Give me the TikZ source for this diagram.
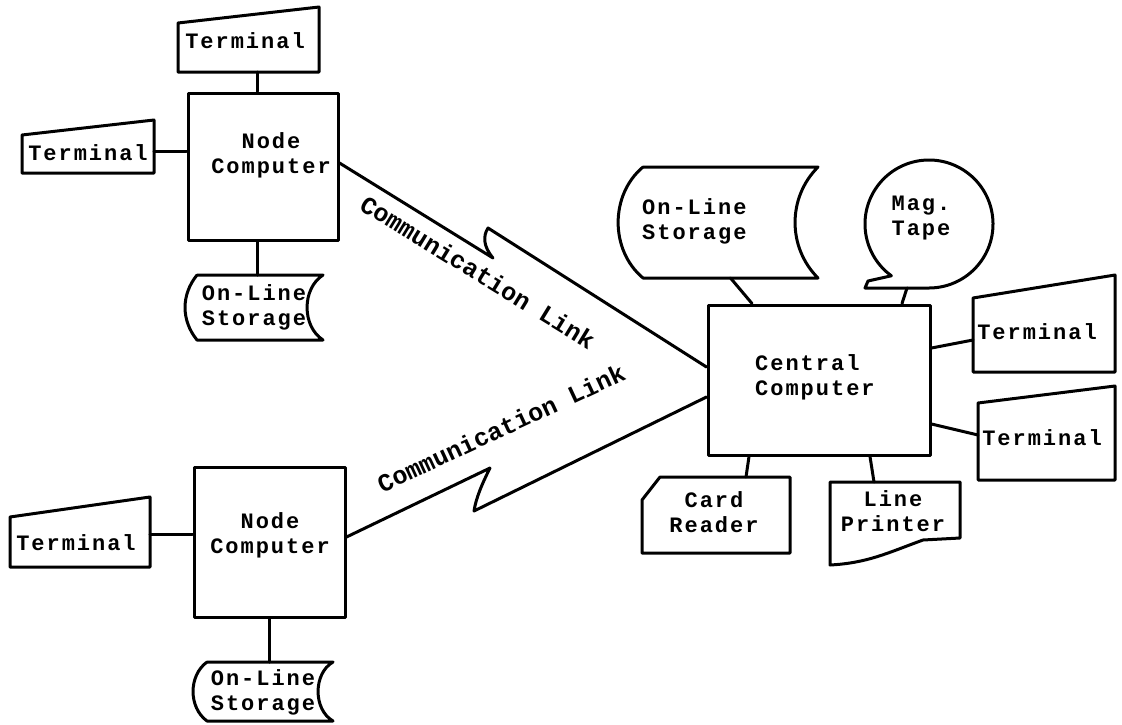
\documentclass[tikz,border=0pt]{standalone}
\usepackage{fontspec}
\newfontfamily\tw[LetterSpace=9]{Liberation Mono}
\newfontfamily\twr{Liberation Mono}
\usetikzlibrary{calc}
\begin{document}
\begin{tikzpicture}[x=1pt,y=1pt,
  ln/.style={line width=3pt, line join=round, line cap=round},
  box/.style={rectangle, draw, ln, inner sep=0pt},
  area/.style={rectangle, inner sep=0pt, outer sep=0pt},
  txt/.style={font=\tw\bfseries\fontsize{22}{25}\selectfont, align=center, inner sep=0pt},
  linktxt/.style={font=\twr\bfseries\fontsize{25}{25}\selectfont, inner sep=0pt},
]
\useasboundingbox[fill=white] (0,0) rectangle (1122,-724);

% computers
\node[box, minimum width=150pt, minimum height=147pt] (nc1) at (263,-166.5) {};
\node[txt] (nc1t) at (271,-155) {Node\\Computer};
\node[box, minimum width=151pt, minimum height=150pt] (nc2) at (269.5,-542) {};
\node[txt] (nc2t) at (270,-535) {Node\\Computer};
\node[box, minimum width=222pt, minimum height=150pt] (cc) at (819,-380) {};
\node[txt, align=left, anchor=west] (cct) at (755,-377) {Central\\Computer};

% terminals
\node[area, minimum width=141pt, minimum height=49pt] (t1) at (248.5,-47.5) {};
\draw[ln] (t1.south west) -- (t1.north west) -- ([yshift=16pt]t1.north east) -- (t1.south east) -- cycle;
\node[txt] (t1t) at (245,-41) {Terminal};

\node[area, minimum width=132pt, minimum height=38pt] (t2) at (88,-154) {};
\draw[ln] (t2.south west) -- (t2.north west) -- ([yshift=15pt]t2.north east) -- (t2.south east) -- cycle;
\node[txt] (t2t) at (88,-153) {Terminal};

\node[area, minimum width=140pt, minimum height=50pt] (t3) at (80,-542) {};
\draw[ln] (t3.south west) -- (t3.north west) -- ([yshift=20pt]t3.north east) -- (t3.south east) -- cycle;
\node[txt] (t3t) at (76,-543) {Terminal};

\node[area, minimum width=142pt, minimum height=74pt] (t4) at (1044,-335) {};
\draw[ln] (t4.south west) -- (t4.north west) -- ([yshift=23pt]t4.north east) -- (t4.south east) -- cycle;
\node[txt] (t4t) at (1037,-332) {Terminal};

\node[area, minimum width=137pt, minimum height=77pt] (t5) at (1046.5,-441.5) {};
\draw[ln] (t5.south west) -- (t5.north west) -- ([yshift=17pt]t5.north east) -- (t5.south east) -- cycle;
\node[txt] (t5t) at (1042,-438) {Terminal};

% on-line storage
\node[area, minimum width=126pt, minimum height=65pt] (s1) at (260,-307.5) {};
\draw[ln] (s1.north west) -- (s1.north east) to[out=213,in=147] (s1.south east) -- (s1.south west) to[out=129,in=231] (s1.north west);
\node[txt] (s1t) at (254,-307) {On-Line\\Storage};

\node[area, minimum width=126pt, minimum height=59pt] (s2) at (270,-691.5) {};
\draw[ln] (s2.north west) -- (s2.north east) to[out=210,in=150] (s2.south east) -- (s2.south west) to[out=144,in=216] (s2.north west);
\node[txt] (s2t) at (263,-692) {On-Line\\Storage};

\node[area, minimum width=175pt, minimum height=111pt] (s3) at (730.5,-222.5) {};
\draw[ln] (s3.north west) -- (s3.north east) to[out=225,in=135] (s3.south east) -- (s3.south west) to[out=140,in=220] (s3.north west);
\node[txt, align=left, anchor=west] (s3t) at (642,-221) {On-Line\\Storage};

% mag tape
\node[circle, inner sep=0pt, outer sep=0pt, minimum size=128pt] (mt) at (929,-224) {};
\draw[ln] (mt.234) arc[start angle=234, end angle=-90, radius=64pt] -- ++(-64,0) -- ++(3,7) -- cycle;
\node[txt] (mtt) at (921,-218) {Mag.\\Tape};

% card reader
\node[area, minimum width=148pt, minimum height=76pt] (cr) at (716,-515) {};
\draw[ln] (cr.south west) -- ([yshift=-23pt]cr.north west) -- ([xshift=18pt]cr.north west) -- (cr.north east) -- (cr.south east) -- cycle;
\node[txt] (crt) at (714,-512) {Card\\Reader};

% line printer
\node[area, minimum width=130pt, minimum height=83pt] (lp) at (895,-523.5) {};
\draw[ln] (lp.south west) -- (lp.north west) -- (lp.north east) -- ([yshift=27pt]lp.south east) -- ([xshift=-37pt,yshift=25pt]lp.south east) to[out=200,in=3] (lp.south west) -- cycle;
\node[txt] (lpt) at (893,-511) {Line\\Printer};

% communication links
\coordinate (z1a) at (493,-258);
\coordinate (z1b) at (488,-228);
\draw[ln] ([yshift=3.5pt]nc1.east) -- (z1a) .. controls (483,-246) and (483,-236) .. (z1b) -- ([yshift=13pt]cc.west);
\node[linktxt, rotate=-31.5] (cl1) at (478,-272) {Communication Link};

\coordinate (z2a) at (490,-468);
\coordinate (z2b) at (474,-511);
\draw[ln] ([yshift=5pt]nc2.east) -- (z2a) .. controls (482,-484) and (476,-498) .. (z2b) -- ([yshift=-17pt]cc.west);
\node[linktxt, rotate=25] (cl2) at (501,-428) {Communication Link};

% connectors
\draw[ln] ([xshift=8.5pt]t1.south) -- ([xshift=8.5pt]t1.south |- nc1.north);
\draw[ln] ([yshift=3pt]t2.east) -- ([yshift=3pt]t2.east -| nc1.west);
\draw[ln] ([xshift=-6pt]nc1.south) -- ([xshift=-6pt]nc1.south |- s1.north);
\draw[ln] ([yshift=8pt]t3.east) -- ([yshift=8pt]t3.east -| nc2.west);
\draw[ln] (nc2.south) -- (nc2.south |- s2.north);
\draw[ln] (s3.south) -- ([xshift=-67pt]cc.north);
\draw[ln] ([xshift=-22pt]mt.south) -- ([xshift=83pt]cc.north);
\draw[ln] ([yshift=32pt]cc.east) -- ([yshift=-5pt]t4.west);
\draw[ln] ([yshift=-44pt]cc.east) -- ([yshift=6.5pt]t5.west);
\draw[ln] ([xshift=-70pt]cc.south) -- ([xshift=30pt]cr.north);
\draw[ln] ([xshift=51pt]cc.south) -- ([xshift=-21pt]lp.north);
\end{tikzpicture}
\end{document}
